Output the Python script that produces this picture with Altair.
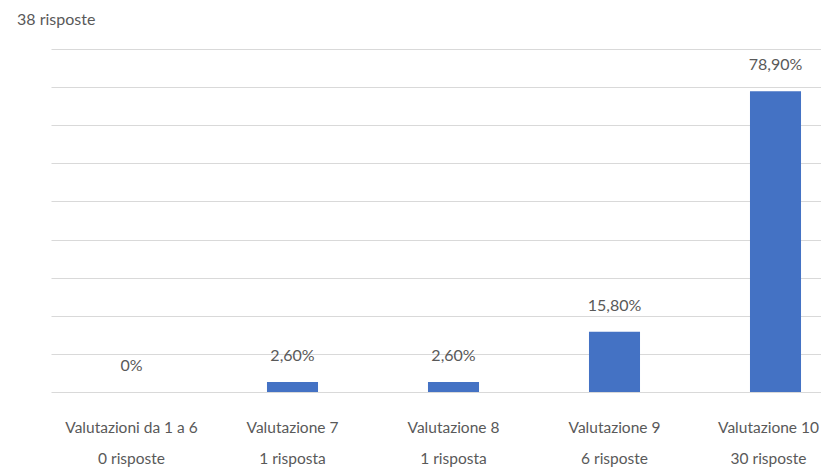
import altair as alt
import pandas as pd

categories = ["Valutazioni da 1 a 6", "Valutazione 7", "Valutazione 8", "Valutazione 9", "Valutazione 10"]
responses = ["0 risposte", "1 risposta", "1 risposta", "6 risposte", "30 risposte"]
percent = [0.0, 2.6, 2.6, 15.8, 78.9]
percent_labels = ["0%", "2,60%", "2,60%", "15,80%", "78,90%"]
grid_values = [0, 10, 20, 30, 40, 50, 60, 70, 80, 90]
total_label = "38 risposte"

df = pd.DataFrame({
    "cat": [c + "|" + r for c, r in zip(categories, responses)],
    "pct": percent,
    "lab": percent_labels,
})
last_cat = df["cat"].iloc[-1]

FONT = "Lato, sans-serif"
TXT = "#595959"

x = alt.X("cat:N", sort=None, title=None,
          scale=alt.Scale(range=[0, 805], paddingInner=0.683, paddingOuter=0.3415),
          axis=alt.Axis(labelExpr="split(datum.label, '|')", labelAngle=0,
                        labelFont=FONT, labelFontSize=15.5, labelColor=TXT,
                        labelLineHeight=31, labelBaseline="middle", labelPadding=35,
                        labelOffset={"condition": {"test": f"datum.value === '{last_cat}'", "value": -7},
                                     "value": 0},
                        ticks=False, domain=False, grid=False, labelLimit=300))
y = alt.Y("pct:Q", title=None,
          scale=alt.Scale(domain=[0, 90], nice=False),
          axis=alt.Axis(values=grid_values, tickCount=10, labels=False, labelOverlap=False,
                        ticks=False, domain=False, grid=True, gridColor="#d9d9d9",
                        gridWidth=1.2))

base = alt.Chart(df)
bars = base.mark_bar(color="#4472C4").encode(x=x, y=y)
labels = base.mark_text(font=FONT, fontSize=16, color=TXT, dy=-26, baseline="middle").encode(
    x=alt.X("cat:N", sort=None), y="pct:Q", text="lab:N")

chart = (bars + labels).properties(
    width=770, height=343,
    autosize=alt.AutoSizeParams(type="none"),
    padding={"left": 43, "top": 41, "right": 0, "bottom": 75},
    title=alt.TitleParams(total_label, anchor="start", dx=-34, dy=1, offset=9, baseline="alphabetic",
                          font=FONT, fontSize=16, fontWeight="normal", color=TXT),
).configure(background="white").configure_view(stroke=None)

chart.save("out.html", embed_options={"renderer": "svg", "actions": False})
